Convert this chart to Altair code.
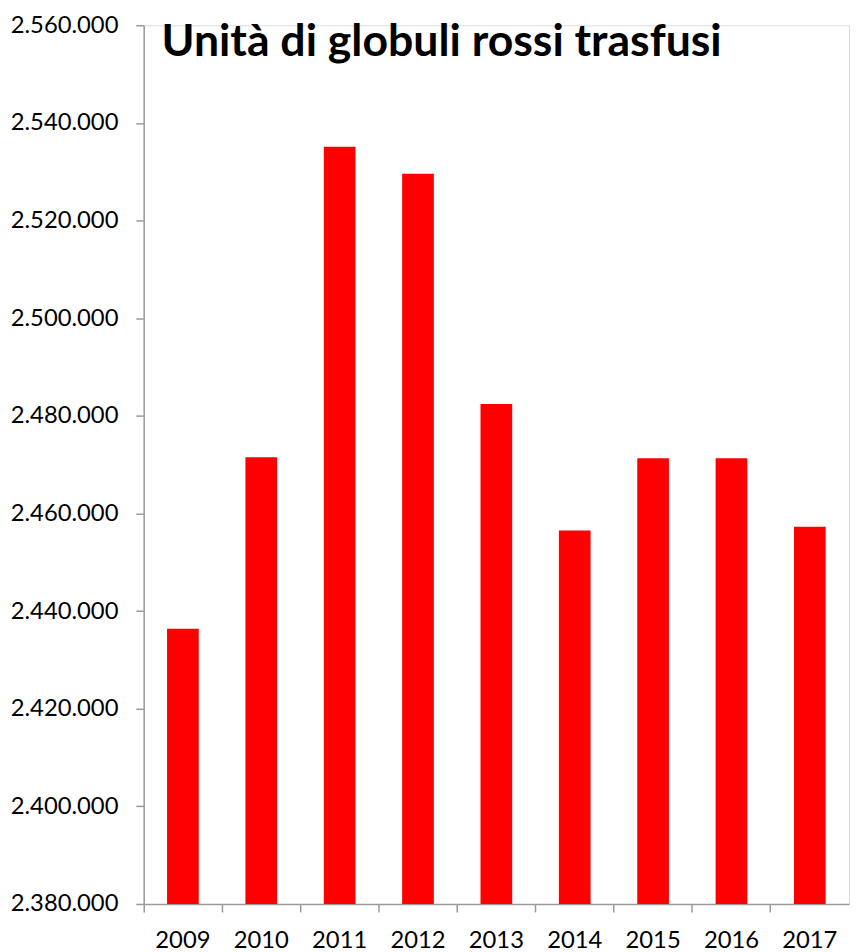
import altair as alt
import pandas as pd

years = ["2009", "2010", "2011", "2012", "2013", "2014", "2015", "2016", "2017"]
units = [2436400, 2471500, 2535100, 2529600, 2482400, 2456500, 2471300, 2471300, 2457300]
y_ticks = [2380000, 2400000, 2420000, 2440000, 2460000, 2480000, 2500000, 2520000, 2540000, 2560000]
y_min, y_max = 2380000, 2560000
title_text = "Unità di globuli rossi trasfusi"

df = pd.DataFrame({"anno": years, "unita": units})

axis_color = "#9a9a9a"
font = "Lato"

chart = (
    alt.Chart(df)
    .mark_bar(color="#ff0000", size=32)
    .encode(
        x=alt.X(
            "anno:N",
            sort=years,
            title=None,
            scale=alt.Scale(paddingInner=0, paddingOuter=0),
            axis=alt.Axis(
                labelAngle=0,
                bandPosition=0,
                domainColor=axis_color,
                domainWidth=1.5,
                tickColor=axis_color,
                tickWidth=1.5,
                tickSize=8,
                labelPadding=17,
                labelFont=font,
                labelFontSize=24,
                labelColor="#000000",
                grid=False,
            ),
        ),
        y=alt.Y(
            "unita:Q",
            title=None,
            scale=alt.Scale(domain=[y_min, y_max], zero=False, nice=False),
            axis=alt.Axis(
                values=y_ticks,
                format=",.0f",
                domainColor=axis_color,
                domainWidth=1.5,
                tickColor=axis_color,
                tickWidth=1.5,
                tickSize=8,
                labelPadding=18,
                labelFont=font,
                labelFontSize=24,
                labelColor="#000000",
                grid=False,
            ),
        ),
        y2=alt.datum(y_min),
    )
    .properties(
        width=712,
        height=887,
        autosize=alt.AutoSizeParams(type="none"),
        padding={"left": 137, "top": 13, "right": 1, "bottom": 44},
        title=alt.TitleParams(
            text=title_text,
            anchor="start",
            frame="group",
            font=font,
            fontSize=45,
            fontWeight="bold",
            color="#000000",
            baseline="alphabetic",
            offset=-88,
            dx=18,
        ),
    )
    .configure_view(stroke=None)
    .configure(
        locale={
            "number": {
                "decimal": ",",
                "thousands": ".",
                "grouping": [3],
                "currency": ["€", ""],
            }
        }
    )
)

chart.save("out.html", embed_options={"renderer": "svg", "actions": False})
